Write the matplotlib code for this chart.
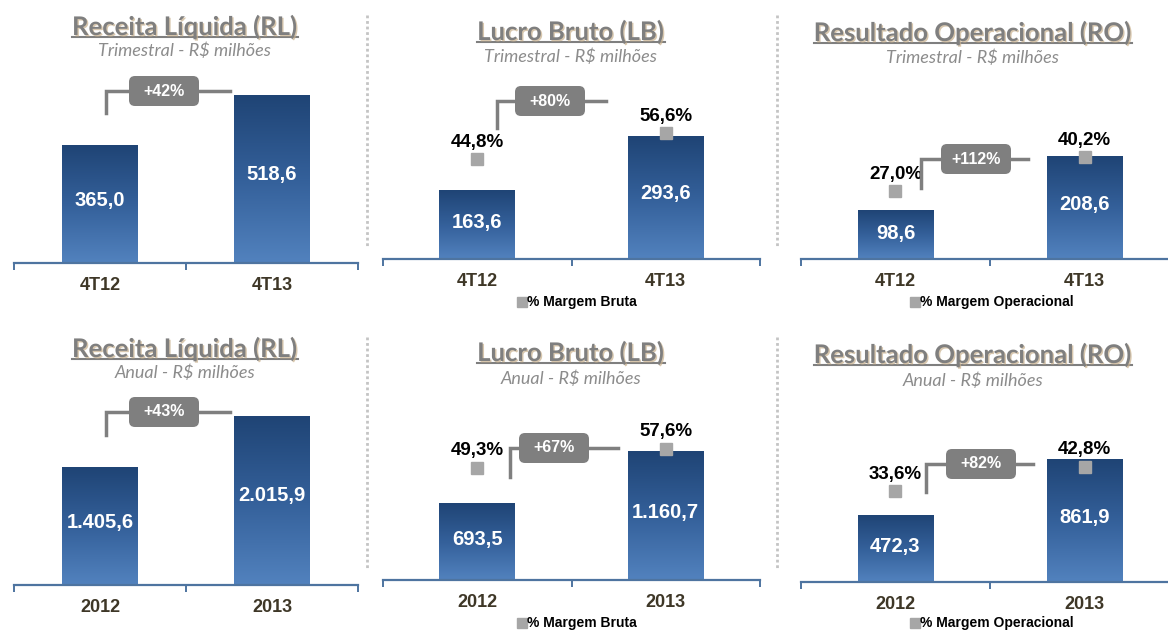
import matplotlib
matplotlib.use("Agg")
import matplotlib.pyplot as plt
import matplotlib.patheffects as pe
import numpy as np
from matplotlib.colors import LinearSegmentedColormap
from matplotlib.patches import FancyBboxPatch

# --- data ---
cat_tri = ["4T12", "4T13"]
cat_ano = ["2012", "2013"]

rl_tri = [365.0, 518.6]
lb_tri = [163.6, 293.6]
ro_tri = [98.6, 208.6]
rl_ano = [1405.6, 2015.9]
lb_ano = [693.5, 1160.7]
ro_ano = [472.3, 861.9]

mb_tri = [44.8, 56.6]
mo_tri = [27.0, 40.2]
mb_ano = [49.3, 57.6]
mo_ano = [33.6, 42.8]

growth_tri = ["+42%", "+80%", "+112%"]
growth_ano = ["+43%", "+67%", "+82%"]

titles = ["Receita Líquida (RL)", "Lucro Bruto (LB)", "Resultado Operacional (RO)"]
sub_tri = "Trimestral - R$ milhões"
sub_ano = "Anual - R$ milhões"
leg_labels = [None, "% Margem Bruta", "% Margem Operacional"]


def br(v):
    s = f"{v:,.1f}"
    return s.replace(",", "X").replace(".", ",").replace("X", ".")


W, H = 1168, 630
fig = plt.figure(figsize=(W / 100, H / 100), dpi=100)
fig.patch.set_facecolor("white")

cmap = LinearSegmentedColormap.from_list("bar", ["#5282BE", "#34609A", "#1F4475"])
grad = np.linspace(0, 1, 256).reshape(-1, 1)
axis_col = "#4E74A0"
gray = "#7F7F7F"
cat_col = "#3E3727"

# layout per panel (pixels): x0, x1, baseline, top, bar ymax, margin ymax,
# title baseline, subtitle y, connector (x_left, y_bottom, y_line, x_right, box_cx), legend
panels = [
    dict(x0=14, x1=358, base=263, top=70, ymax=598, mmax=None, cats=cat_tri, vals=rl_tri, marg=None,
         title=titles[0], sub=sub_tri, tx=185, ty=35, sy=51, growth=growth_tri[0],
         conn=(106, 113, 91, 230, 164), leg=None),
    dict(x0=383, x1=760, base=259, top=70, ymax=452, mmax=84.8, cats=cat_tri, vals=lb_tri, marg=mb_tri,
         title=titles[1], sub=sub_tri, tx=571, ty=40, sy=57, growth=growth_tri[1],
         conn=(497, 128, 101, 606, 550), leg=(522, 302, leg_labels[1])),
    dict(x0=801, x1=1179, base=259, top=70, ymax=384, mmax=74.7, cats=cat_tri, vals=ro_tri, marg=mo_tri,
         title=titles[2], sub=sub_tri, tx=973, ty=41, sy=58, growth=growth_tri[2],
         conn=(921, 188, 159, 1028, 976), leg=(915, 302, leg_labels[2])),
    dict(x0=14, x1=358, base=585, top=395, ymax=2275, mmax=None, cats=cat_ano, vals=rl_ano, marg=None,
         title=titles[0], sub=sub_ano, tx=185, ty=357, sy=373, growth=growth_ano[0],
         conn=(106, 435, 412, 230, 164), leg=None),
    dict(x0=383, x1=760, base=580, top=395, ymax=1674, mmax=81.1, cats=cat_ano, vals=lb_ano, marg=mb_ano,
         title=titles[1], sub=sub_ano, tx=571, ty=361, sy=379, growth=growth_ano[1],
         conn=(510, 477, 448, 618, 554), leg=(522, 623, leg_labels[1])),
    dict(x0=801, x1=1179, base=582, top=395, ymax=1321, mmax=69.3, cats=cat_ano, vals=ro_ano, marg=mo_ano,
         title=titles[2], sub=sub_ano, tx=973, ty=363, sy=381, growth=growth_ano[2],
         conn=(926, 492, 464, 1033, 981), leg=(915, 623, leg_labels[2])),
]

for p in panels:
    ax = fig.add_axes([p["x0"] / W, 1 - p["base"] / H, (p["x1"] - p["x0"]) / W, (p["base"] - p["top"]) / H])
    width = 76 / ((p["x1"] - p["x0"]) / 2)
    for i, v in enumerate(p["vals"]):
        ax.imshow(grad, extent=[i - width / 2, i + width / 2, 0, v], origin="lower",
                  cmap=cmap, aspect="auto", zorder=2)
        ax.text(i, v * 0.53, br(v), ha="center", va="center", color="white",
                fontsize=14.5, fontweight="bold", family="Liberation Sans", zorder=3)
    ax.set_xlim(-0.5, 1.5)
    ax.set_ylim(0, p["ymax"])
    for s in ["top", "left", "right"]:
        ax.spines[s].set_visible(False)
    ax.spines["bottom"].set_color(axis_col)
    ax.spines["bottom"].set_linewidth(1.6)
    ax.set_yticks([])
    ax.set_xticks([0, 1])
    ax.set_xticklabels(p["cats"], fontsize=13, fontweight="bold", color=cat_col, family="Liberation Sans")
    ax.tick_params(axis="x", which="major", length=0, pad=10)
    ax.set_xticks([-0.5, 0.5, 1.5], minor=True)
    ax.tick_params(axis="x", which="minor", length=5, width=1.4, color=axis_col, direction="out")
    ax.patch.set_alpha(0)

    if p["marg"] is not None:
        ax2 = ax.twinx()
        ax2.set_ylim(0, p["mmax"])
        ax2.axis("off")
        ax2.plot([0, 1], p["marg"], ls="none", marker="s", ms=9, color="#A6A6A6", zorder=4)
        for i, m in enumerate(p["marg"]):
            ax2.annotate(br(m) + "%", (i, m), xytext=(0, 12), textcoords="offset points",
                         ha="center", va="center", fontsize=13.5, fontweight="bold",
                         color="black", family="Liberation Sans")

# overlay for titles, separators, growth boxes and legends
ov = fig.add_axes([0, 0, 1, 1])
ov.set_xlim(0, W)
ov.set_ylim(H, 0)
ov.axis("off")

for x in [367, 777]:
    ov.plot([x, x], [15, 248], ls=(0, (1, 1)), color="#C4C4C4", lw=2)
    ov.plot([x, x], [337, 568], ls=(0, (1, 1)), color="#C4C4C4", lw=2)

shadow = [pe.SimplePatchShadow(offset=(1, -1), shadow_rgbFace="#C8B08C", alpha=0.7), pe.Normal()]
title_objs = []
for p in panels:
    t = ov.text(p["tx"], p["ty"], p["title"], ha="center", va="baseline", fontsize=18.5, fontweight="bold",
                color=gray, family="Lato", path_effects=shadow)
    title_objs.append((t, p["ty"]))
    ov.text(p["tx"], p["sy"], p["sub"], ha="center", va="center", fontsize=13, style="italic",
            color="#8C8C8C", family="Lato")

    xl, yb, yl, xr, bcx = p["conn"]
    ov.plot([xl, xl, bcx - 35], [yb, yl, yl], color=gray, lw=2.5, solid_joinstyle="miter")
    ov.plot([bcx + 35, xr], [yl, yl], color=gray, lw=2.5)
    ov.add_patch(FancyBboxPatch((bcx - 35, yl - 15), 70, 30, boxstyle="round,pad=0,rounding_size=6",
                                fc=gray, ec="none", zorder=3))
    ov.text(bcx, yl, p["growth"], ha="center", va="center", fontsize=11.5, fontweight="bold",
            color="white", family="Liberation Sans", zorder=4)

    if p["leg"] is not None:
        lx, ly, lab = p["leg"]
        ov.plot([lx], [ly], marker="s", ms=7, color="#A6A6A6", ls="none")
        ov.text(lx + 5, ly, lab, ha="left", va="center", fontsize=10, fontweight="bold",
                color="black", family="Liberation Sans")

# underline the titles
fig.canvas.draw()
r = fig.canvas.get_renderer()
for t, ty in title_objs:
    bb = t.get_window_extent(renderer=r)
    ov.plot([bb.x0, bb.x1], [ty + 1.5, ty + 1.5], color=gray, lw=1.5)

fig.savefig("out.png", dpi=100)
